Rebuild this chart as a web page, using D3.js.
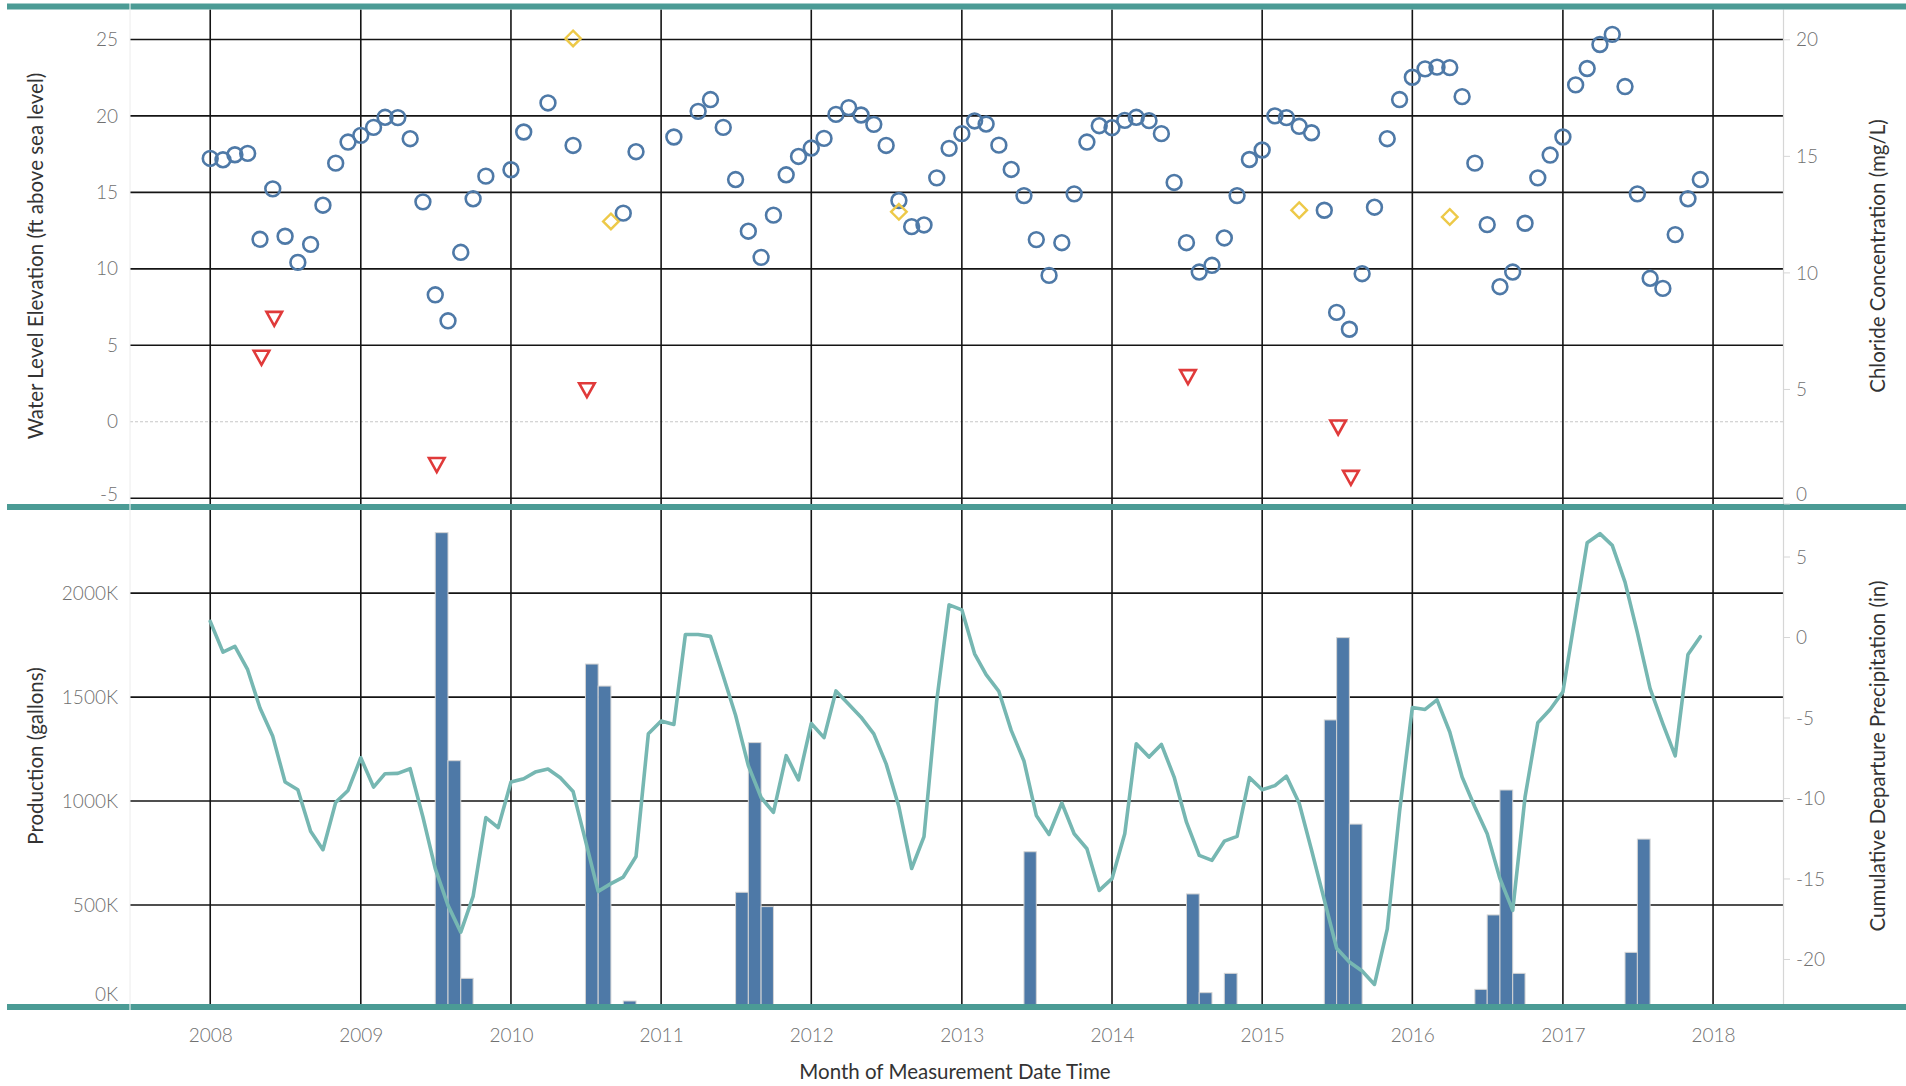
<!DOCTYPE html>
<html>
<head>
<meta charset="utf-8">
<script src="https://cdn.jsdelivr.net/npm/d3@7"></script>
<style>
  html, body { margin: 0; padding: 0; background: #fff; }
  svg { display: block; font-family: Lato, "Open Sans", sans-serif; }
</style>
</head>
<body>
<svg id="chart" width="1906" height="1086"></svg>
<script>
// Monthly water level elevation (ft above sea level), Jan 2008 – Dec 2017; null = no reading
const waterLevel = [
  17.22, 17.13, 17.46, 17.55, 11.93, 15.23, 12.13, 10.42, 11.60, 14.16, 16.91, 18.29,
  18.73, 19.25, 19.91, 19.89, 18.51, 14.38, 8.30, 6.60, 11.08, 14.58, 16.06, null,
  16.48, 18.95, null, 20.85, null, 18.07, null, null, null, 13.64, 17.66, null,
  null, 18.62, null, 20.30, 21.07, 19.25, 15.84, 12.46, 10.75, 13.51, 16.15, 17.35,
  17.90, 18.53, 20.10, 20.54, 20.06, 19.45, 18.07, 14.47, 12.76, 12.87, 15.95, 17.88,
  18.84, 19.67, 19.47, 18.09, 16.50, 14.79, 11.91, 9.57, 11.71, 14.90, 18.29, 19.36,
  19.23, 19.71, 19.91, 19.69, 18.84, 15.65, 11.71, 9.79, 10.23, 12.02, 14.79, 17.15,
  17.77, 20.00, 19.89, 19.32, 18.90, 13.83, 7.15, 6.05, 9.68, 14.03, 18.51, 21.07,
  22.53, 23.08, 23.19, 23.16, 21.26, 16.91, 12.89, 8.83, 9.79, 12.98, 15.95, 17.44,
  18.62, 22.03, 23.10, 24.67, 25.33, 21.92, 14.90, 9.38, 8.72, 12.24, 14.58, 15.84
];

// Monthly cumulative departure from normal precipitation (in), Jan 2008 – Dec 2017
const precipDeparture = [
  1.00, -0.91, -0.55, -2.00, -4.38, -6.14, -8.98, -9.46, -12.04, -13.18, -10.24, -9.50,
  -7.47, -9.29, -8.46, -8.44, -8.15, -11.15, -14.36, -16.64, -18.30, -16.08, -11.19, -11.81,
  -8.98, -8.77, -8.36, -8.17, -8.71, -9.56, -12.60, -15.77, -15.29, -14.88, -13.60, -5.98,
  -5.19, -5.40, 0.19, 0.19, 0.07, -2.39, -4.83, -7.96, -9.94, -10.86, -7.34, -8.84,
  -5.34, -6.22, -3.32, -4.14, -4.95, -5.99, -7.85, -10.52, -14.35, -12.37, -3.91, 2.03,
  1.72, -1.01, -2.31, -3.35, -5.77, -7.67, -11.05, -12.23, -10.28, -12.19, -13.12, -15.71,
  -14.98, -12.19, -6.60, -7.43, -6.64, -8.67, -11.47, -13.53, -13.84, -12.65, -12.35, -8.70,
  -9.46, -9.20, -8.62, -10.30, -13.20, -16.30, -19.30, -20.16, -20.72, -21.55, -18.12, -10.80,
  -4.35, -4.47, -3.87, -5.87, -8.67, -10.53, -12.19, -14.98, -16.95, -9.91, -5.29, -4.47,
  -3.38, 1.50, 5.89, 6.45, 5.72, 3.44, 0.30, -3.18, -5.36, -7.35, -1.06, 0.05
];

// Monthly production (gallons); months not listed had none
const productionMonths = [
  "2009-07", "2009-08", "2009-09", "2010-07", "2010-08", "2010-10",
  "2011-07", "2011-08", "2011-09", "2013-06", "2014-07", "2014-08", "2014-10",
  "2015-06", "2015-07", "2015-08", "2016-06", "2016-07", "2016-08", "2016-09",
  "2017-06", "2017-07"
];
const productionGallons = [
  2291000, 1194000, 147000, 1659000, 1553000, 38000,
  561000, 1281000, 492000, 756000, 553000, 78000, 171000,
  1390000, 1786000, 889000, 94000, 452000, 1053000, 171000,
  272000, 817000
];

// Chloride concentration samples (mg/L)
const chlorideTriangleMonths = ["2008-05", "2008-06", "2009-07", "2010-07", "2014-07", "2015-07", "2015-08"];
const chlorideTriangleValues = [6.35, 8.02, 1.75, 4.96, 5.52, 3.36, 1.20];
const chlorideDiamondMonths = ["2010-06", "2010-09", "2012-08", "2015-04", "2016-04"];
const chlorideDiamondValues = [20.06, 12.21, 12.62, 12.69, 12.40];

// Axis ticks
const yearTicks = [2008, 2009, 2010, 2011, 2012, 2013, 2014, 2015, 2016, 2017, 2018];
const waterTicks = [-5, 0, 5, 10, 15, 20, 25];
const chlorideTicks = [0, 5, 10, 15, 20];
const productionTicks = [0, 500000, 1000000, 1500000, 2000000];
const precipTicks = [-20, -15, -10, -5, 0, 5];

// ---- layout ----
const L = 130, R = 1783;
const topPanel = { y0: 9.5, y1: 504 };
const botPanel = { y0: 510, y1: 1004 };
const colors = {
  blue: "#4e79a7", teal: "#76b7b2", red: "#e03a3a", yellow: "#edc948",
  band: "#4b9b95", grid: "#141414", tick: "#707070", title: "#333333"
};
const tickFont = 19, titleFont = 20.5;

const svg = d3.select("#chart");
const parseMonth = d3.utcParse("%Y-%m");
const months = d3.utcMonth.range(new Date(Date.UTC(2008, 0, 1)), new Date(Date.UTC(2018, 0, 1)));
const plain = d => String(d);

const x = d3.scaleUtc()
  .domain([new Date(Date.UTC(2007, 5, 20)), new Date(Date.UTC(2018, 5, 20))])
  .range([L, R]);
const yWater = d3.scaleLinear().domain([-5.38, 26.96]).range([topPanel.y1, topPanel.y0]);
const yChloride = d3.scaleLinear().domain([0, 21.3]).range([506, topPanel.y0]);
const yProd = d3.scaleLinear().domain([0, 2400000]).range([1008.9, botPanel.y0]);
const yPrecip = d3.scaleLinear().domain([-23.07, 7.92]).range([1008.9, botPanel.y0]);

// ---- gridlines ----
const grid = svg.append("g").attr("class", "grid");
grid.selectAll("line.wy").data(waterTicks.filter(d => d !== 0)).join("line")
  .attr("x1", L).attr("x2", R)
  .attr("y1", d => yWater(d)).attr("y2", d => yWater(d))
  .attr("stroke", colors.grid).attr("stroke-width", 1.6);
grid.append("line")
  .attr("x1", L).attr("x2", R)
  .attr("y1", yWater(0)).attr("y2", yWater(0))
  .attr("stroke", "#c8c8c8").attr("stroke-width", 1.2).attr("stroke-dasharray", "3,2");
grid.selectAll("line.py").data(productionTicks.filter(d => d > 0)).join("line")
  .attr("x1", L).attr("x2", R)
  .attr("y1", d => yProd(d)).attr("y2", d => yProd(d))
  .attr("stroke", colors.grid).attr("stroke-width", 1.6);
grid.selectAll("line.yr").data(yearTicks).join("line")
  .attr("x1", d => x(new Date(Date.UTC(d, 0, 1)))).attr("x2", d => x(new Date(Date.UTC(d, 0, 1))))
  .attr("y1", topPanel.y0).attr("y2", botPanel.y1)
  .attr("stroke", colors.grid).attr("stroke-width", 1.6);

// axis lines (left light, right grey with ticks)
[topPanel, botPanel].forEach(p => {
  svg.append("line").attr("x1", L).attr("x2", L).attr("y1", p.y0).attr("y2", p.y1)
    .attr("stroke", "#ececec").attr("stroke-width", 1);
  svg.append("line").attr("x1", R + 0.5).attr("x2", R + 0.5).attr("y1", p.y0).attr("y2", p.y1)
    .attr("stroke", "#d6d6d6").attr("stroke-width", 1.2);
});

// ---- production bars ----
const prodData = productionMonths.map((m, i) => ({ date: parseMonth(m), v: productionGallons[i] }));
svg.append("g").selectAll("rect").data(prodData).join("rect")
  .attr("x", d => x(d.date))
  .attr("width", d => x(d3.utcMonth.offset(d.date, 1)) - x(d.date))
  .attr("y", d => yProd(d.v))
  .attr("height", d => yProd(0) - yProd(d.v))
  .attr("fill", colors.blue)
  .attr("stroke", "#d4d4d4").attr("stroke-width", 1);

// ---- precipitation departure line ----
const precipData = months.map((d, i) => ({ date: d, v: precipDeparture[i] }));
svg.append("path").datum(precipData)
  .attr("fill", "none").attr("stroke", colors.teal).attr("stroke-width", 3.6)
  .attr("stroke-linejoin", "round").attr("stroke-linecap", "round")
  .attr("d", d3.line().x(d => x(d.date)).y(d => yPrecip(d.v)));

// ---- water level circles ----
const waterData = months.map((d, i) => ({ date: d, v: waterLevel[i] })).filter(d => d.v !== null);
svg.append("g").selectAll("circle").data(waterData).join("circle")
  .attr("cx", d => x(d.date)).attr("cy", d => yWater(d.v)).attr("r", 7.4)
  .attr("fill", "none").attr("stroke", colors.blue).attr("stroke-width", 2.6);

// ---- chloride markers ----
const triData = chlorideTriangleMonths.map((m, i) => ({ date: parseMonth(m), v: chlorideTriangleValues[i] }));
svg.append("g").selectAll("path").data(triData).join("path")
  .attr("transform", d => `translate(${x(d.date) + 1.5},${yChloride(d.v)})`)
  .attr("d", "M-7.8,-7.2L7.8,-7.2L0,6.8Z")
  .attr("fill", "none").attr("stroke", colors.red).attr("stroke-width", 2.6);

const diaData = chlorideDiamondMonths.map((m, i) => ({ date: parseMonth(m), v: chlorideDiamondValues[i] }));
svg.append("g").selectAll("path").data(diaData).join("path")
  .attr("transform", d => `translate(${x(d.date)},${yChloride(d.v)})`)
  .attr("d", "M0,-7.8L7.8,0L0,7.8L-7.8,0Z")
  .attr("fill", "none").attr("stroke", colors.yellow).attr("stroke-width", 2.4);

// ---- pane borders ----
[[3.5, 9.5], [504, 510], [1004, 1010]].forEach(([a, b]) => {
  svg.append("rect").attr("x", 7).attr("y", a).attr("width", L - 7.5).attr("height", b - a).attr("fill", colors.band);
  svg.append("rect").attr("x", L + 0.5).attr("y", a).attr("width", 1906 - L - 0.5).attr("height", b - a).attr("fill", colors.band);
});

// ---- axes ----
function styleAxis(g, anchor, clampBottom, scale) {
  g.select(".domain").remove();
  g.selectAll(".tick line").remove();
  g.selectAll(".tick")
    .attr("transform", d => `translate(0,${Math.min(scale(d), clampBottom)})`);
  g.selectAll(".tick text")
    .attr("x", 0).attr("dy", "0.35em")
    .attr("fill", colors.tick).attr("font-size", tickFont).attr("font-weight", 300)
    .attr("text-anchor", anchor);
  g.attr("font-family", null).attr("font-size", null);
}

svg.append("g").attr("transform", `translate(118,0)`)
  .call(d3.axisLeft(yWater).tickValues(waterTicks).tickFormat(plain))
  .call(g => styleAxis(g, "end", topPanel.y1 - 10, yWater));

svg.append("g").attr("transform", `translate(118,0)`)
  .call(d3.axisLeft(yProd).tickValues(productionTicks).tickFormat(d => (d / 1000) + "K"))
  .call(g => styleAxis(g, "end", botPanel.y1 - 10, yProd));

svg.append("g").attr("transform", `translate(1796,0)`)
  .call(d3.axisRight(yChloride).tickValues(chlorideTicks).tickFormat(plain))
  .call(g => styleAxis(g, "start", topPanel.y1 - 10, yChloride));

svg.append("g").attr("transform", `translate(1796,0)`)
  .call(d3.axisRight(yPrecip).tickValues(precipTicks).tickFormat(plain))
  .call(g => styleAxis(g, "start", botPanel.y1 - 10, yPrecip));

// small tick marks on the right axes
svg.append("g").selectAll("line").data(chlorideTicks).join("line")
  .attr("x1", R + 1).attr("x2", R + 7)
  .attr("y1", d => Math.min(yChloride(d), topPanel.y1)).attr("y2", d => Math.min(yChloride(d), topPanel.y1))
  .attr("stroke", "#d6d6d6").attr("stroke-width", 1);
svg.append("g").selectAll("line").data(precipTicks).join("line")
  .attr("x1", R + 1).attr("x2", R + 7)
  .attr("y1", d => yPrecip(d)).attr("y2", d => yPrecip(d))
  .attr("stroke", "#d6d6d6").attr("stroke-width", 1);

const xAxis = svg.append("g").attr("transform", "translate(0,1035)")
  .call(d3.axisBottom(x).tickValues(yearTicks.map(y => new Date(Date.UTC(y, 0, 1)))).tickFormat(d3.utcFormat("%Y")));
xAxis.select(".domain").remove();
xAxis.selectAll(".tick line").remove();
xAxis.selectAll(".tick text").attr("y", 0).attr("dy", "0.35em")
  .attr("fill", colors.tick).attr("font-size", tickFont).attr("font-weight", 300);
xAxis.attr("font-family", null).attr("font-size", null);

// ---- axis titles ----
function vTitle(xp, yp, text) {
  svg.append("text")
    .attr("transform", `translate(${xp},${yp}) rotate(-90)`)
    .attr("text-anchor", "middle").attr("dy", "0.35em")
    .attr("fill", colors.title).attr("font-size", titleFont)
    .text(text);
}
vTitle(36, 256, "Water Level Elevation (ft above sea level)");
vTitle(36, 756, "Production (gallons)");
vTitle(1878, 256, "Chloride Concentration (mg/L)");
vTitle(1878, 756, "Cumulative Departure Precipitation (in)");

svg.append("text")
  .attr("x", 955).attr("y", 1072).attr("dy", "0.35em")
  .attr("text-anchor", "middle").attr("fill", colors.title).attr("font-size", titleFont)
  .text("Month of Measurement Date Time");
</script>
</body>
</html>
